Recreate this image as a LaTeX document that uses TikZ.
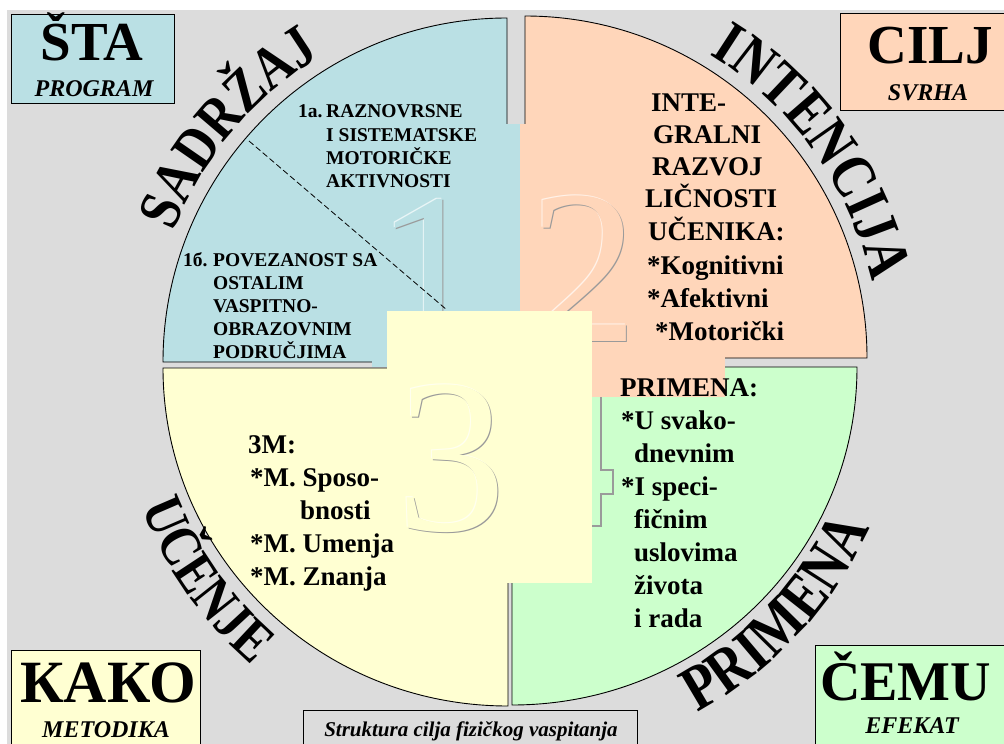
\documentclass[tikz,border=0pt]{standalone}
\usepackage{fontspec}
\setmainfont{Liberation Serif}
\newfontfamily\wordart[FakeStretch=0.84]{Liberation Serif}
\usetikzlibrary{decorations.text}
\definecolor{bgc}{HTML}{DCDCDC}
\definecolor{qblue}{HTML}{BAE0E4}
\definecolor{qpeach}{HTML}{FFD6BA}
\definecolor{qyellow}{HTML}{FFFFD2}
\definecolor{qgreen}{HTML}{CCFFCC}
\definecolor{embgrey}{HTML}{9A9A9A}
\newcommand\embnum[5]{%
  \node[numeral, text=white!70!#4, xshift=-1pt, yshift=1pt] at (#1,#2) {#3};
  \node[numeral, text=embgrey, xshift=1.2pt, yshift=-1.2pt] at (#1,#2) {#3};
  \node[numeral, text=#4] (#5) at (#1,#2) {#3};}
\begin{document}
\begin{tikzpicture}[x=1pt,y=1pt,
  quad/.style={draw=black, line width=0.9pt},
  cbox/.style={draw=black, line width=0.9pt, inner sep=0pt, anchor=north west},
  big/.style={font=\bfseries\fontsize{55}{55}\selectfont, anchor=base, inner sep=0pt},
  sub/.style={font=\bfseries\itshape\fontsize{24}{24}\selectfont, anchor=base, inner sep=0pt},
  small/.style={font=\bfseries\fontsize{19.5}{19.5}\selectfont, anchor=base west, inner sep=0pt},
  mid/.style={font=\bfseries\fontsize{27}{27}\selectfont, anchor=base west, inner sep=0pt},
  numeral/.style={font=\fontsize{220}{220}\selectfont, anchor=base, inner sep=0pt},
  arctext/.style={decorate, decoration={text along path, text align=center, text={#1}}},
]
\useasboundingbox (0,0) rectangle (1004,-744);
\fill[white] (0,0) rectangle (1004,-744);
\fill[bgc] (7,-10) rectangle (1004,-744);

% quadrants
\filldraw[quad, fill=qblue] (507,-362) -- (163,-362) arc[start angle=180, end angle=90, radius=344] -- cycle;
\filldraw[quad, fill=qpeach] (525,-358) -- (525,-16) arc[start angle=90, end angle=0, radius=342] -- cycle;
\filldraw[quad, fill=qyellow] (508,-368) -- (163,-368) arc[start angle=180, end angle=270, x radius=345, y radius=338] -- cycle;
\filldraw[quad, fill=qgreen] (512,-367) -- (512,-705) arc[start angle=270, end angle=360, x radius=345, y radius=338] -- cycle;

% text boxes of the numerals
\fill[qblue] (372,-124) rectangle (520,-367);
\fill[qpeach] (520,-124) rectangle (725,-397);
\embnum{430}{-344}{1}{qblue}{n1}
\embnum{583}{-341}{2}{qpeach}{n2}
\draw[dash pattern=on 6pt off 3pt, line width=0.8pt] (249,-141) -- (447,-310);
\fill[qyellow] (387,-311) rectangle (592,-583);
\embnum{451}{-530}{3}{qyellow}{n3}
\draw[embgrey, line width=1.2pt] (601,-397) -- (601,-470) -- (613,-470) -- (613,-494) -- (601,-494) -- (601,-526) -- (592,-526);

% corner boxes
\node[cbox, fill=qblue, minimum width=163pt, minimum height=89pt] (bsta) at (11,-14) {};
\node[big] (sta) at (92,-60) {ŠTA};
\node[sub] (program) at (94,-96) {PROGRAM};
\node[cbox, fill=qpeach, minimum width=164pt, minimum height=97pt] (bcilj) at (840,-13) {};
\node[big] (cilj) at (930,-63) {CILJ};
\node[sub] (svrha) at (928,-100) {SVRHA};
\node[cbox, fill=qyellow, minimum width=189pt, minimum height=110pt] (bkako) at (11,-650) {};
\node[big, font=\bfseries\fontsize{60}{60}\selectfont] (kako) at (108,-702) {КАКО};
\node[sub] (metodika) at (106,-737) {METODIKA};
\node[cbox, fill=qgreen, minimum width=200pt, minimum height=110pt] (bcemu) at (815,-645) {};
\node[big, anchor=base west, font=\bfseries\fontsize{56}{56}\selectfont] (cemu) at (820,-700) {ČEMU};
\node[sub] (efekat) at (912,-733) {EFEKAT};
\node[cbox, fill=bgc, minimum width=334pt, minimum height=50pt] (bcap) at (303,-710) {};
\node[sub, font=\bfseries\itshape\fontsize{21}{21}\selectfont] (cap) at (471,-736) {Struktura cilja fizičkog vaspitanja};

% blue quadrant text
\node[small] (t1a) at (298,-117) {1a.};
\node[small] (t1a1) at (326,-117) {RAZNOVRSNE};
\node[small] (t1a2) at (326,-141) {I SISTEMATSKE};
\node[small] (t1a3) at (326,-164) {MOTORIČKE};
\node[small] (t1a4) at (326,-187) {AKTIVNOSTI};
\node[small] (t1b) at (183,-266) {1б.};
\node[small] (t1b1) at (213,-266) {POVEZANOST SA};
\node[small] (t1b2) at (213,-289) {OSTALIM};
\node[small] (t1b3) at (213,-312) {VASPITNO-};
\node[small] (t1b4) at (213,-335) {OBRAZOVNIM};
\node[small] (t1b5) at (213,-358) {PODRUČJIMA};

% peach text
\node[mid] (p1) at (651,-111) {INTE-};
\node[mid] (p2) at (653,-143) {GRALNI};
\node[mid] (p3) at (652,-175) {RAZVOJ};
\node[mid] (p4) at (645,-207) {LIČNOSTI};
\node[mid] (p5) at (648,-240) {UČENIKA:};
\node[mid] (p6) at (647,-274) {*Kognitivni};
\node[mid] (p7) at (647,-307) {*Afektivni};
\node[mid] (p8) at (655,-340) {*Motorički};

% green text
\node[mid] (g0) at (620,-396) {PRIMENA:};
\node[mid] (g1) at (621,-429) {*U svako-};
\node[mid] (g2) at (634,-462) {dnevnim};
\node[mid] (g3) at (621,-495) {*I speci-};
\node[mid] (g4) at (634,-528) {fičnim};
\node[mid] (g5) at (634,-561) {uslovima};
\node[mid] (g6) at (634,-594) {života};
\node[mid] (g7) at (634,-627) {i rada};

% yellow text
\node[mid] (y0) at (248,-453) {3M:};
\node[mid] (y1) at (250,-486) {*M. Sposo-};
\node[mid] (y2) at (300,-519) {bnosti};
\node[mid] (y3) at (250,-552) {*M. Umenja};
\node[mid] (y4) at (250,-585) {*M. Znanja};

% curved labels
\path[arctext={|\wordart\bfseries\fontsize{60}{60}\selectfont|SADRŽAJ}] (507,-362) ++(176:358) arc[start angle=176, end angle=104, radius=358];
\path[arctext={|\wordart\bfseries\fontsize{62}{62}\selectfont|INTENCIJA}] (525,-358) ++(71:355) arc[start angle=71, end angle=0, radius=355];
\path[arctext={|\wordart\bfseries\fontsize{58}{58}\selectfont|UČENJE}] (508,-368) ++(180:392) arc[start angle=180, end angle=250, radius=392];
\path[arctext={|\wordart\bfseries\fontsize{64}{64}\selectfont|PRIMENA}] (512,-367) ++(-78:392) arc[start angle=-78, end angle=-8, radius=392];
\end{tikzpicture}
\end{document}
